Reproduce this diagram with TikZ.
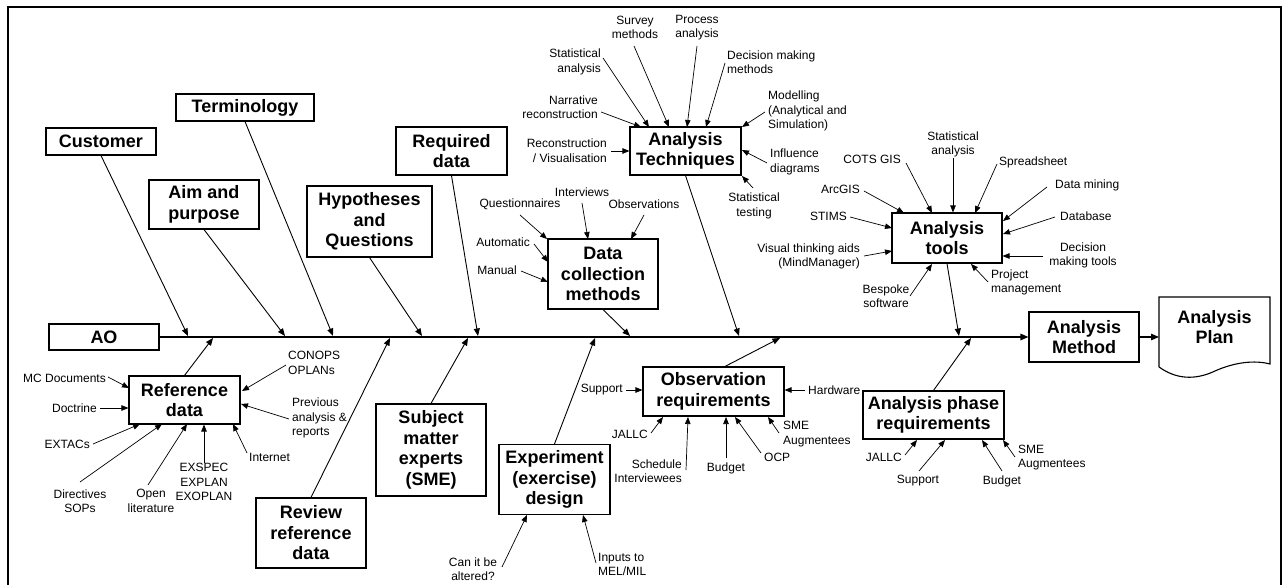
\documentclass[tikz,border=0pt]{standalone}
\usepackage{fontspec}
\setmainfont{Liberation Sans}
\usetikzlibrary{arrows.meta}
\newcommand{\smallf}{\fontsize{12}{14.5}\selectfont}
\newcommand{\bigf}{\fontsize{18}{20.5}\selectfont\bfseries}
\tikzset{
  box/.style={draw, line width=1.1pt, font=\bigf, align=center, inner sep=0pt},
  lbl/.style={font=\smallf, inner sep=0pt},
  arr/.style={line width=0.7pt, -{Triangle[length=7pt,width=5.5pt]}},
  spinearr/.style={line width=0.9pt, -{Triangle[length=7.5pt,width=6pt]}},
  spine/.style={line width=1.3pt, -{Triangle[length=8pt,width=6.5pt]}}
}
\begin{document}
\begin{tikzpicture}[x=1pt,y=-1pt]
\useasboundingbox (0,0) rectangle (1288,585);
% frame
\draw[line width=2.2pt] (8,590) -- (8,7) -- (1281,7) -- (1281,590);

% main boxes
\node[box, minimum width=110pt, minimum height=26pt] (ao) at (104,337) {AO};
\node[box, minimum width=110pt, minimum height=27pt] (cust) at (101,141.5) {Customer};
\node[box, minimum width=138pt, minimum height=27pt] (term) at (245,107.5) {Terminology};
\node[box, minimum width=110pt, minimum height=49pt] (aim) at (204,204.5) {Aim and\\purpose};
\node[box, minimum width=125pt, minimum height=71pt] (hyp) at (369.5,221.5) {Hypotheses\\and\\Questions};
\node[box, minimum width=111pt, minimum height=48pt] (req) at (451.5,151) {Required\\data};
\node[box, minimum width=111pt, minimum height=48pt] (tech) at (685.5,151) {Analysis\\Techniques};
\node[box, minimum width=110pt, minimum height=70pt] (dcm) at (603,274) {Data\\collection\\methods};
\node[box, minimum width=110pt, minimum height=50pt] (tools) at (947,238) {Analysis\\tools};
\node[box, minimum width=110pt, minimum height=50pt] (meth) at (1084,337) {Analysis\\Method};
\node[box, minimum width=111pt, minimum height=48pt] (ref) at (184.5,400) {Reference\\data};
\node[box, minimum width=110pt, minimum height=70pt] (rev) at (311,533) {Review\\reference\\data};
\node[box, minimum width=110pt, minimum height=92pt] (sme) at (431,450) {Subject\\matter\\experts\\(SME)};
\node[box, minimum width=111pt, minimum height=70pt] (exp) at (554.5,479.5) {Experiment\\(exercise)\\design};
\node[box, minimum width=141pt, minimum height=49pt] (obs) at (713.5,391.5) {Observation\\requirements};
\node[box, minimum width=141pt, minimum height=48pt] (aph) at (933.5,415) {Analysis phase\\requirements};

% document shape
\draw[line width=1.1pt] (1159,367) -- (1159,297) -- (1270,297) -- (1270,364)
  .. controls (1255,360) and (1235,362) .. (1215,371)
  .. controls (1200,378) and (1180,382) .. (1159,367);
\node[font=\bigf, align=center, inner sep=0pt] (plan) at (1214.5,327) {Analysis\\Plan};
\coordinate (planw) at (1159,337);

% spine
\draw[spine] (ao.east) -- (meth.west);
\draw[spine] (meth.east) -- (planw);

% branches above
\draw[spinearr] (cust.south) -- (188,336);
\draw[spinearr] (aim.south) -- (285,336);
\draw[spinearr] (term.south) -- (333,336);
\draw[spinearr] (hyp.south) -- (422,336);
\draw[spinearr] (req.south) -- (478,336);
\draw[spinearr] (dcm.south) -- (630,336);
\draw[spinearr] (tech.south) -- (739,336);
\draw[spinearr] (tools.south) -- (959,336);
% branches below
\draw[spinearr] (ref.north) -- (213,338);
\draw[spinearr] (rev.north) -- (390,338);
\draw[spinearr] (sme.north) -- (468,338);
\draw[spinearr] (exp.north) -- (595,338);
\draw[spinearr] (725,0 |- obs.north) -- (780,338);
\draw[spinearr] (aph.north) -- (971,338);

% Reference data labels
\node[lbl, anchor=east] (mcdoc) at (106,378) {MC Documents};
\node[lbl, anchor=east] (doctrine) at (97,408) {Doctrine};
\node[lbl, anchor=east] (extacs) at (90,444) {EXTACs};
\node[lbl, align=center] (directives) at (80,501) {Directives\\SOPs};
\node[lbl, align=center] (openlit) at (151,501) {Open\\literature};
\node[lbl, align=center] (exspec) at (204,482) {EXSPEC\\EXPLAN\\EXOPLAN};
\node[lbl, anchor=west] (internet) at (249,457) {Internet};
\node[lbl, anchor=west, align=left] (previous) at (292,418) {Previous\\analysis \&\\reports};
\node[lbl, anchor=west, align=left] (conops) at (288,363) {CONOPS\\OPLANs};
\draw[arr] (108,377) -- (129,388);
\draw[arr] (100,408) -- (ref.west |- 0,408);
\draw[arr] (93,444) -- (140,424);
\draw[arr] (80,482) -- (162,424);
\draw[arr] (148,485) -- (187,424);
\draw[arr] (exspec.north) -- (ref.south -| exspec.north);
\draw[arr] (247,453) -- (233,424);
\draw[arr] (289,419) -- (241,404);
\draw[arr] (286,365) -- (242,391);

% Analysis techniques labels
\node[lbl, align=center] (survey) at (635,27.5) {Survey\\methods};
\node[lbl, align=center] (process) at (697,27.5) {Process\\analysis};
\node[lbl, anchor=east, align=right] (statA) at (601,62) {Statistical\\analysis};
\node[lbl, anchor=west, align=left] (decision) at (727,62) {Decision making\\methods};
\node[lbl, anchor=east, align=right] (narrative) at (598,107) {Narrative\\reconstruction};
\node[lbl, anchor=west, align=left] (modelling) at (768,111) {Modelling\\(Analytical and\\Simulation)};
\node[lbl, anchor=east, align=right] (recon) at (607,150.5) {Reconstruction\\/ Visualisation};
\node[lbl, anchor=west, align=left] (influence) at (770,162) {Influence\\diagrams};
\node[lbl, align=center] (stattest) at (754,206) {Statistical\\testing};
\draw[arr] (634,46) -- (669,127);
\draw[arr] (697,46) -- (687,127);
\draw[arr] (603,58) -- (649,127);
\draw[arr] (725,63) -- (706,127);
\draw[arr] (601,112) -- (641,127);
\draw[arr] (765,112) -- (742,127);
\draw[arr] (611,151) -- (tech.west |- 0,151);
\draw[arr] (767,163) -- (742,150);
\draw[arr] (753,188) -- (742,176);

% Data collection labels
\node[lbl] (quest) at (520,204) {Questionnaires};
\node[lbl] (interv) at (582,192) {Interviews};
\node[lbl] (observ) at (644,204) {Observations};
\node[lbl, anchor=east] (automatic) at (530,242) {Automatic};
\node[lbl, anchor=east] (manual) at (517,270) {Manual};
\draw[arr] (520,215) -- (547,239);
\draw[arr] (582,203) -- (588,239);
\draw[arr] (644,215) -- (631,239);
\draw[arr] (534,244) -- (548,262);
\draw[arr] (521,271) -- (548,282);

% Analysis tools labels
\node[lbl, anchor=east] (cots) at (901,159) {COTS GIS};
\node[lbl, align=center] (statB) at (953,144.5) {Statistical\\analysis};
\node[lbl, anchor=west] (spread) at (999,162) {Spreadsheet};
\node[lbl, anchor=west] (datamining) at (1055,185) {Data mining};
\node[lbl, anchor=west] (database) at (1060,216) {Database};
\node[lbl, align=center] (dmt) at (1083,255.5) {Decision\\making tools};
\node[lbl, anchor=west, align=left] (project) at (991,282.5) {Project\\management};
\node[lbl, align=center] (bespoke) at (886,296) {Bespoke\\software};
\node[lbl, anchor=east, align=right] (visual) at (860,256.5) {Visual thinking aids\\(MindManager)};
\node[lbl, anchor=east] (stims) at (847,216) {STIMS};
\node[lbl, anchor=east] (arcgis) at (860,189) {ArcGIS};
\draw[arr] (906,163) -- (932,213);
\draw[arr] (statB.south) -- (statB.south |- tools.north);
\draw[arr] (997,164) -- (975,213);
\draw[arr] (1047,187) -- (1003,221);
\draw[arr] (1055,217) -- (1003,234);
\draw[arr] (1043,256) -- (tools.east |- 0,256);
\draw[arr] (988,282) -- (971,264);
\draw[arr] (910,296) -- (932,264);
\draw[arr] (864,256) -- (892,251);
\draw[arr] (850,217) -- (892,228);
\draw[arr] (864,191) -- (904,213);

% Observation requirements labels
\node[lbl, anchor=east] (supportO) at (623,390) {Support};
\node[lbl, anchor=west] (hardware) at (808,390) {Hardware};
\node[lbl, anchor=east] (jallcO) at (648,434) {JALLC};
\node[lbl, anchor=east, align=right] (schedule) at (682,471) {Schedule\\Interviewees};
\node[lbl] (budgetO) at (726,468) {Budget};
\node[lbl, anchor=west] (ocp) at (764,457) {OCP};
\node[lbl, anchor=west, align=left] (smeO) at (783,434) {SME\\Augmentees};
\draw[arr] (626,390) -- (obs.west |- 0,390);
\draw[arr] (805,390) -- (obs.east |- 0,390);
\draw[arr] (651,433) -- (663,417);
\draw[arr] (686,470) -- (688,417);
\draw[arr] (726,458) -- (726,417);
\draw[arr] (761,453) -- (735,417);
\draw[arr] (779,433) -- (768,417);

% Experiment labels
\node[lbl, align=center] (canit) at (473,569) {Can it be\\altered?};
\node[lbl, anchor=west, align=left] (inputs) at (598,564.5) {Inputs to\\MEL/MIL};
\draw[arr] (502,567) -- (527,515);
\draw[arr] (596,563) -- (583,515);

% Analysis phase labels
\node[lbl, anchor=east] (jallcA) at (902,457) {JALLC};
\node[lbl] (supportA) at (918,481) {Support};
\node[lbl] (budgetA) at (1002,481) {Budget};
\node[lbl, anchor=west, align=left] (smeA) at (1018,457.5) {SME\\Augmentees};
\draw[arr] (905,455) -- (917,440);
\draw[arr] (919,471) -- (945,440);
\draw[arr] (1002,471) -- (982,440);
\draw[arr] (1015,457) -- (1003,440);
\end{tikzpicture}
\end{document}
